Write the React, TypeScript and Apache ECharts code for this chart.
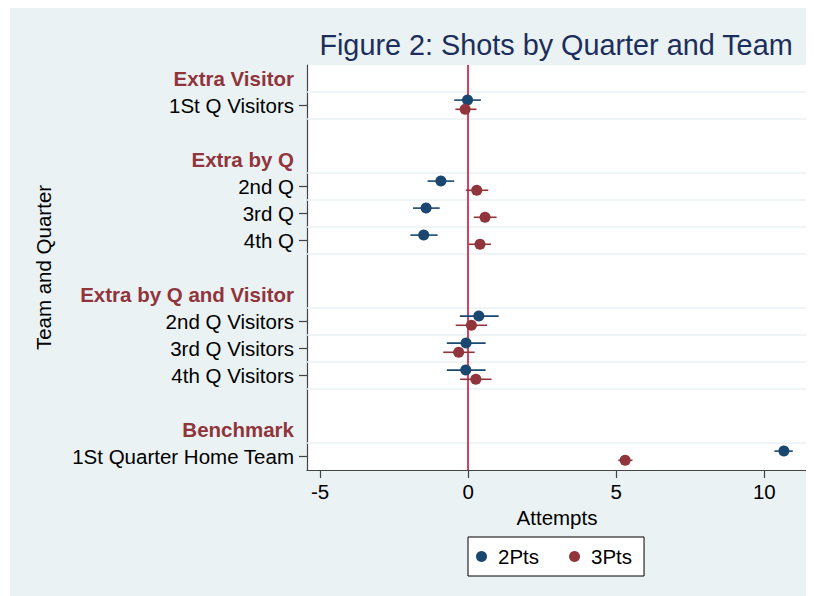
import React, { useEffect, useRef } from "react";
import * as echarts from "echarts";

// Row layout (top to bottom): headers, data rows and blank spacer rows
const rowLabels: string[] = [
  "Extra Visitor",
  "1St Q Visitors",
  "",
  "Extra by Q",
  "2nd Q",
  "3rd Q",
  "4th Q",
  "",
  "Extra by Q and Visitor",
  "2nd Q Visitors",
  "3rd Q Visitors",
  "4th Q Visitors",
  "",
  "Benchmark",
  "1St Quarter Home Team",
];
const headerRows: number[] = [0, 3, 8, 13];
const dataRows: number[] = [1, 4, 5, 6, 9, 10, 11, 14];

// 2Pts estimates and confidence intervals
const pts2: number[] = [-0.02, -0.92, -1.42, -1.5, 0.36, -0.07, -0.08, 10.66];
const lo2: number[] = [-0.47, -1.37, -1.86, -1.95, -0.28, -0.72, -0.72, 10.34];
const hi2: number[] = [0.43, -0.47, -0.96, -1.03, 1.03, 0.59, 0.59, 10.96];
// 3Pts estimates and confidence intervals
const pts3: number[] = [-0.1, 0.29, 0.57, 0.4, 0.11, -0.32, 0.26, 5.3];
const lo3: number[] = [-0.43, -0.08, 0.19, 0.02, -0.42, -0.84, -0.27, 5.07];
const hi3: number[] = [0.28, 0.68, 0.96, 0.77, 0.64, 0.22, 0.79, 5.55];

const xTicks: number[] = [-5, 0, 5, 10];

const BLUE = "#1a476f";
const RED = "#90353b";
const BG = "#eaf2f3";
const FONT = "'Liberation Sans', Arial, Helvetica, sans-serif";
const FS = 20.5;

export default function App() {
  const ref = useRef<HTMLDivElement>(null);
  useEffect(() => {
    document.body.style.overflow = "hidden";
    const chart = echarts.init(ref.current!, null, { renderer: "svg" });
    const off2 = -0.2;
    const off3 = 0.14;
    const ciData = (lo: number[], hi: number[], off: number) =>
      dataRows.map((r, i) => [lo[i], hi[i], r + 0.5 + off]);
    const ptData = (p: number[], off: number) =>
      dataRows.map((r, i) => [p[i], r + 0.5 + off]);
    const gridBounds: number[] = [];
    dataRows.forEach((r) => {
      if (!gridBounds.includes(r)) gridBounds.push(r);
      if (r + 1 < rowLabels.length && !gridBounds.includes(r + 1)) gridBounds.push(r + 1);
    });
    const ciSeries = (name: string, lo: number[], hi: number[], off: number, color: string, z: number) => ({
      type: "custom",
      name,
      z,
      data: ciData(lo, hi, off),
      encode: { x: [0, 1], y: 2 },
      renderItem: (params: any, api: any) => {
        const a = api.coord([api.value(0), api.value(2)]);
        const b = api.coord([api.value(1), api.value(2)]);
        return {
          type: "line",
          shape: { x1: a[0], y1: a[1], x2: b[0], y2: b[1] },
          style: { stroke: color, lineWidth: 1.6 },
        };
      },
    });
    chart.setOption({
      animation: false,
      backgroundColor: BG,
      textStyle: { fontFamily: FONT },
      graphic: [
        {
          type: "text",
          x: 546,
          y: 37,
          style: {
            text: "Figure 2: Shots by Quarter and Team",
            fontSize: 28.8,
            fontFamily: FONT,
            fill: "#1c2e5c",
            textAlign: "center",
            textVerticalAlign: "middle",
          },
        },
        {
          type: "text",
          x: 33.5,
          y: 259.5,
          rotation: Math.PI / 2,
          style: {
            text: "Team and Quarter",
            fontSize: FS,
            fontFamily: FONT,
            fill: "#000",
            textAlign: "center",
            textVerticalAlign: "middle",
          },
        },
      ],
      grid: {
        left: 297,
        top: 57,
        right: 7,
        bottom: 126,
        show: true,
        backgroundColor: "#fff",
        borderWidth: 0,
      },
      legend: {
        left: 458,
        top: 529,
        data: ["2Pts", "3Pts"],
        icon: "circle",
        itemWidth: 11,
        itemHeight: 11,
        itemGap: 30,
        backgroundColor: "#fff",
        borderColor: "#000",
        borderWidth: 1,
        borderRadius: 0,
        padding: [9, 12, 9, 8],
        textStyle: { fontSize: FS, color: "#000", fontFamily: FONT, padding: [0, 0, 0, 6] },
      },
      xAxis: {
        type: "value",
        min: -5.44,
        max: 11.44,
        name: "Attempts",
        nameLocation: "middle",
        nameGap: 34,
        nameTextStyle: { fontSize: FS, color: "#000", fontFamily: FONT },
        axisLine: { show: true, onZero: false, lineStyle: { color: "#444", width: 1.2 } },
        axisTick: { show: true, length: 8, customValues: xTicks, lineStyle: { color: "#444", width: 1.2 } },
        axisLabel: { customValues: xTicks, fontSize: FS, color: "#000", margin: 11, fontFamily: FONT },
        splitLine: { show: false },
      },
      yAxis: {
        type: "value",
        min: 0,
        max: rowLabels.length,
        inverse: true,
        axisLine: { show: true, onZero: false, lineStyle: { color: "#444", width: 1.2 } },
        axisTick: {
          show: true,
          length: 8,
          customValues: dataRows.map((r) => r + 0.5),
          lineStyle: { color: "#444", width: 1.2 },
        },
        axisLabel: {
          customValues: rowLabels.map((_, i) => i + 0.5).filter((_, i) => rowLabels[i] !== ""),
          margin: 13,
          fontSize: FS,
          color: "#000",
          fontFamily: FONT,
          formatter: (v: number) => {
            const i = Math.floor(v);
            const t = rowLabels[i] || "";
            return headerRows.includes(i) ? "{h|" + t + "}" : t;
          },
          rich: {
            h: { fontSize: FS, fontWeight: "bold", color: RED, fontFamily: FONT },
          },
        },
        splitLine: { show: false },
      },
      series: [
        {
          type: "scatter",
          name: "lines",
          data: [],
          silent: true,
          markLine: {
            silent: true,
            symbol: "none",
            z: 1,
            label: { show: false },
            emphasis: { disabled: true },
            data: [
              ...gridBounds.map((b) => ({ yAxis: b, lineStyle: { color: BG, width: 1.5, type: "solid" } })),
              { xAxis: 0, lineStyle: { color: "#d0103a", width: 1.6, type: "solid" } },
            ],
          },
        },
        ciSeries("2Pts CI", lo2, hi2, off2, BLUE, 3),
        {
          type: "scatter",
          name: "2Pts",
          z: 4,
          symbol: "circle",
          symbolSize: 11,
          itemStyle: { color: BLUE, opacity: 1 },
          data: ptData(pts2, off2),
        },
        ciSeries("3Pts CI", lo3, hi3, off3, RED, 5),
        {
          type: "scatter",
          name: "3Pts",
          z: 6,
          symbol: "circle",
          symbolSize: 11,
          itemStyle: { color: RED, opacity: 1 },
          data: ptData(pts3, off3),
        },
      ],
    });
    return () => chart.dispose();
  }, []);
  return (
    <div
      ref={ref}
      style={{ width: 804, height: 588, marginLeft: 2, background: BG }}
    />
  );
}
